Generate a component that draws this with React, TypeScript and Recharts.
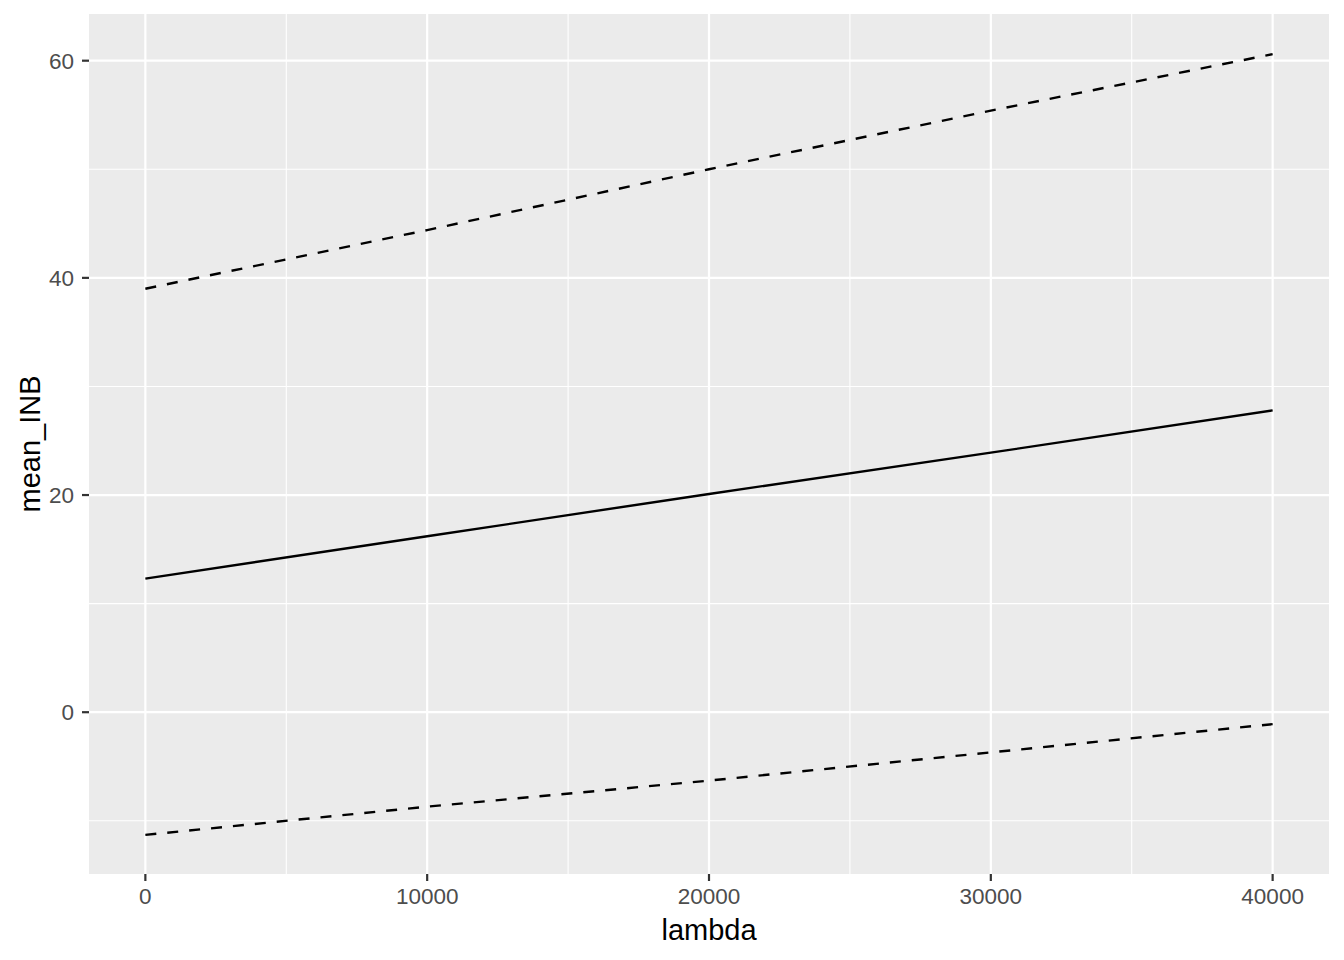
import {
  LineChart,
  Line,
  XAxis,
  YAxis,
  CartesianGrid,
  ReferenceLine,
  Label,
} from "recharts";

// lambda values and INB estimates
const lambda = [0, 10000, 20000, 30000, 40000];
const meanINB = [12.3, 16.2, 20.1, 23.9, 27.8];
const upperINB = [39.0, 44.4, 50.0, 55.4, 60.6];
const lowerINB = [-11.3, -8.7, -6.3, -3.7, -1.1];

const xTicks = [0, 10000, 20000, 30000, 40000];
const yTicks = [0, 20, 40, 60];
const xMinor = [-5000, 5000, 15000, 25000, 35000];
const yMinor = [-10, 10, 30, 50];

const data = lambda.map((l, i) => ({
  lambda: l,
  mean: meanINB[i],
  upper: upperINB[i],
  lower: lowerINB[i],
}));

const FONT = "'Liberation Sans', Arial, Helvetica, sans-serif";
const tickStyle = { fontSize: 22.5, fill: "#4D4D4D", fontFamily: FONT };
const tickLine = { stroke: "#333333", strokeWidth: 2.2 };
const titleStyle = { fontSize: 29, fill: "#000", fontFamily: FONT };

export default function App() {
  return (
    <div style={{ margin: -8, width: 1344, height: 960, background: "#fff" }}>
      <LineChart
        width={1344}
        height={960}
        data={data}
        margin={{ top: 14, right: 15, left: 0, bottom: 0 }}
      >
        <CartesianGrid
          fill="#EBEBEB"
          stroke="#FFFFFF"
          strokeWidth={2.2}
          horizontalValues={yTicks}
          verticalValues={xTicks}
        />
        {xMinor.map((v) => (
          <ReferenceLine key={"x" + v} x={v} stroke="#FFFFFF" strokeWidth={1.1} ifOverflow="hidden" />
        ))}
        {yMinor.map((v) => (
          <ReferenceLine key={"y" + v} y={v} stroke="#FFFFFF" strokeWidth={1.1} ifOverflow="hidden" />
        ))}
        <XAxis
          dataKey="lambda"
          type="number"
          domain={[-2000, 42000]}
          ticks={xTicks}
          allowDataOverflow
          height={86}
          axisLine={false}
          tickLine={tickLine}
          tickSize={7}
          tickMargin={7}
          tick={tickStyle}
          fontSize={22.5}
        >
          <Label value="lambda" position="insideBottom" offset={20} style={titleStyle} />
        </XAxis>
        <YAxis
          type="number"
          domain={[-14.9, 64.3]}
          ticks={yTicks}
          allowDataOverflow
          width={89}
          axisLine={false}
          tickLine={tickLine}
          tickSize={7}
          tickMargin={8}
          tick={tickStyle}
          fontSize={22.5}
        >
          <Label
            value="mean_INB"
            angle={-90}
            position="insideLeft"
            offset={30}
            style={{ ...titleStyle, textAnchor: "middle" }}
          />
        </YAxis>
        <Line
          dataKey="upper"
          stroke="#000"
          strokeWidth={2.4}
          strokeDasharray="11 11"
          dot={false}
          isAnimationActive={false}
        />
        <Line
          dataKey="mean"
          stroke="#000"
          strokeWidth={2.4}
          dot={false}
          isAnimationActive={false}
        />
        <Line
          dataKey="lower"
          stroke="#000"
          strokeWidth={2.4}
          strokeDasharray="11 11"
          dot={false}
          isAnimationActive={false}
        />
      </LineChart>
    </div>
  );
}
